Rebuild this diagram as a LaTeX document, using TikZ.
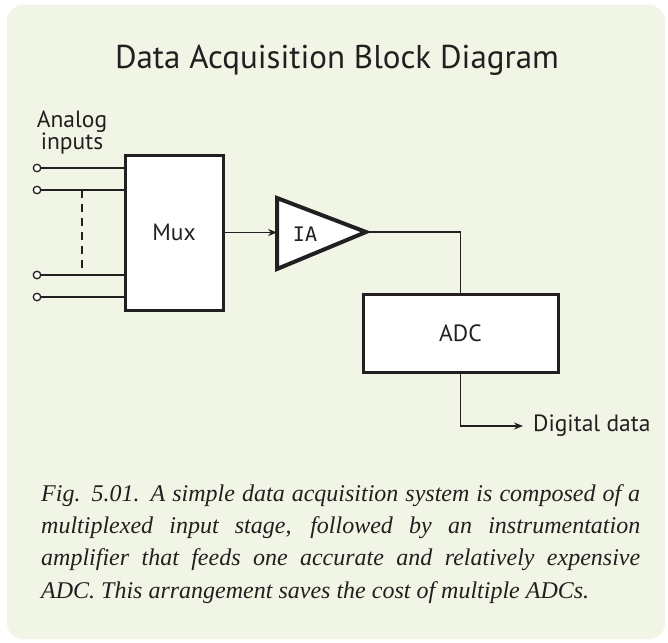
\documentclass[tikz,border=0pt]{standalone}
\usepackage{fontspec}
\setmainfont{PT Sans}
\newfontfamily\capfont{Liberation Serif}
\newfontfamily\iafont{DejaVu Sans Mono}
\usetikzlibrary{arrows.meta}
\definecolor{bgc}{HTML}{F1F5E5}
\definecolor{ink}{HTML}{231F20}
\begin{document}
\begin{tikzpicture}[x=1pt,y=-1pt,
  blk/.style={draw=ink, fill=white, line width=3pt, inner sep=0pt},
  conn/.style={draw=ink, line width=1.3pt},
  tipped/.style={-{Stealth[length=9pt,width=7pt]}},
  pinc/.style={circle, draw=ink, fill=white, line width=1.3pt, inner sep=0pt, minimum size=7.5pt},
  lbl/.style={font=\fontsize{23.5}{22}\selectfont, text=ink, inner sep=0pt}]
\useasboundingbox (0,0) rectangle (668,642);
\fill[bgc, rounded corners=16pt] (7,5) rectangle (665,639);
\node[font=\fontsize{33}{38}\selectfont, text=ink, anchor=base, inner sep=0pt] (title) at (337,68) {Data Acquisition Block Diagram};
\node[lbl, align=center, font=\fontsize{23.5}{22}\selectfont] (analog) at (72,132) {Analog\\inputs};
% Mux
\node[blk, minimum width=98pt, minimum height=155pt] (mux) at (174,232.5) {};
\node[lbl] (muxl) at (mux.center) {Mux};
% inputs
\node[pinc] (c1) at (37,168) {};
\node[pinc] (c2) at (37,190) {};
\node[pinc] (c3) at (37,275) {};
\node[pinc] (c4) at (37,297) {};
\foreach \c in {c1,c2,c3,c4} \draw[conn] (\c.east) -- (\c -| mux.west);
\coordinate (d1) at (82,190);
\coordinate (d2) at (82,268);
\draw[conn, dash pattern=on 8pt off 6pt] (d1) -- (d2);
% IA triangle
\coordinate (ta) at (277,198);
\coordinate (tb) at (277,269);
\coordinate (tip) at (366,232);
\draw[draw=ink, fill=white, line width=4pt, line join=miter] (ta) -- (tip) -- (tb) -- cycle;
\node[font=\iafont\fontsize{20}{20}\selectfont, text=ink, inner sep=0pt] (ia) at (305,234) {IA};
\draw[conn, tipped] (mux.east) -- (ta |- mux.east);
% ADC
\node[blk, minimum width=195pt, minimum height=78pt] (adc) at (460.5,333) {};
\node[lbl] (adcl) at (adc.center) {ADC};
\draw[conn] (tip) -| (adc.north);
\node[lbl, anchor=west, inner xsep=10pt] (dd) at (523,426) {Digital data};
\draw[conn, tipped] (adc.south) |- (dd.west);
% caption
\node[anchor=north west, inner sep=0pt, text width=599pt, align=justify, text=ink,
  font=\capfont\itshape\fontsize{24}{32.3}\selectfont] (cap) at (41,484)
  {\hyphenpenalty=10000 Fig. 5.01. A simple data acquisition system is composed of a\linebreak multiplexed input stage, followed by an instrumentation\linebreak amplifier that feeds one accurate and relatively expensive\linebreak ADC. This arrangement saves the cost of multiple ADCs.};
\end{tikzpicture}
\end{document}
